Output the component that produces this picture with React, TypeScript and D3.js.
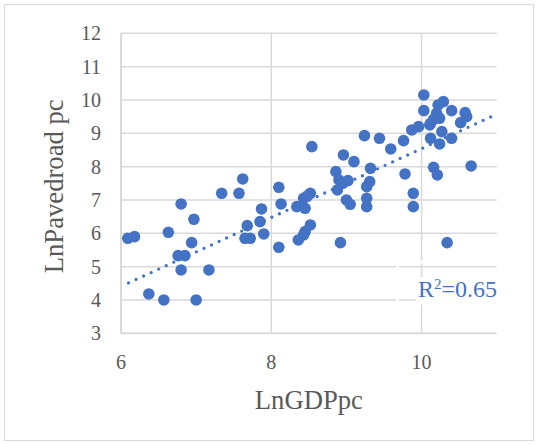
import React from "react";
import * as d3 from "d3";

const points: [number, number][] = [
  [6.09, 5.85], [6.18, 5.9], [6.37, 4.18], [6.57, 4.0], [6.63, 6.03], [6.8, 6.88],
  [6.76, 5.33], [6.85, 5.33], [6.8, 4.9], [6.94, 5.72], [6.97, 6.42], [7.0, 4.0], [7.17, 4.9],
  [7.34, 7.2], [7.57, 7.2], [7.62, 7.63], [7.68, 6.23], [7.65, 5.85], [7.72, 5.85],
  [7.87, 6.73], [7.85, 6.35], [7.9, 5.98], [8.1, 7.38], [8.13, 6.88], [8.1, 5.58],
  [8.34, 6.8], [8.36, 5.8], [8.43, 7.05], [8.45, 6.75], [8.45, 6.05], [8.43, 5.95],
  [8.54, 8.6], [8.52, 7.2], [8.48, 7.12], [8.52, 6.25],
  [8.86, 7.85], [8.88, 7.3], [8.9, 7.6], [8.95, 7.5], [8.96, 8.35], [8.92, 5.72],
  [9.0, 7.0], [9.05, 6.87], [9.02, 7.58], [9.1, 8.15], [9.24, 8.93], [9.32, 7.95],
  [9.31, 7.55], [9.27, 7.4], [9.27, 7.05], [9.27, 6.8], [9.44, 8.85], [9.59, 8.53],
  [9.76, 8.78], [9.78, 7.78], [9.87, 9.1], [9.96, 9.2], [9.89, 7.2], [9.89, 6.8],
  [10.03, 10.15], [10.03, 9.68], [10.29, 9.95], [10.22, 9.85], [10.4, 9.68], [10.58, 9.62],
  [10.6, 9.5], [10.2, 9.6], [10.16, 9.42], [10.24, 9.45], [10.12, 9.3], [10.52, 9.32],
  [10.11, 9.25], [10.27, 9.05], [10.12, 8.85], [10.24, 8.68], [10.4, 8.85], [10.16, 7.98],
  [10.21, 7.75], [10.66, 8.02], [10.34, 5.72],
];

const xTicks = [6, 8, 10];
const yTicks = [3, 4, 5, 6, 7, 8, 9, 10, 11, 12];
const trendSlope = 1.033;
const trendIntercept = -1.79;
const trendRange = [6.1, 11];
const r2Label = "0.65";
const xTitle = "LnGDPpc";
const yTitle = "LnPavedroad pc";

const BLUE = "#4472C4";
const GRID = "#d9d9d9";
const TEXT = "#595959";
const FONT = "'Liberation Serif', 'Times New Roman', serif";

export default function App() {
  const x = d3.scaleLinear().domain([6, 11]).range([121, 496.7]);
  const y = d3.scaleLinear().domain([3, 12]).range([333.3, 33.3]);
  const [x0, x1] = x.range();
  const [yb, yt] = y.range();
  const trend = d3
    .line<number>()
    .x((d) => x(d))
    .y((d) => y(trendSlope * d + trendIntercept));

  return (
    <div style={{ position: "fixed", left: 0, top: 0 }}>
      <svg width={538} height={445} style={{ display: "block" }}>
        <rect x={0} y={0} width={538} height={445} fill="#fff" />
        <rect x={4.5} y={4.5} width={529} height={436} fill="none" stroke={GRID} strokeWidth={1} />
        {yTicks.map((t) => (
          <line key={"gy" + t} x1={x0} x2={x1} y1={y(t)} y2={y(t)} stroke={GRID} strokeWidth={t === 3 ? 2 : 1.5} />
        ))}
        {xTicks.map((t) => (
          <line key={"gx" + t} x1={x(t)} x2={x(t)} y1={yb} y2={yt} stroke={GRID} strokeWidth={t === 6 ? 2 : 1.5} />
        ))}
        {/* R2 label box outline */}
        <rect x={397.5} y={262} width={104} height={41} fill="none" stroke="#fff" strokeWidth={3} />
        <rect x={416} y={277} width={84} height={25} fill="#fff" />
        {points.map((p, i) => (
          <circle key={i} cx={x(p[0])} cy={y(p[1])} r={5.8} fill={BLUE} />
        ))}
        <path
          d={trend(trendRange) || ""}
          fill="none"
          stroke={BLUE}
          strokeWidth={3.3}
          strokeLinecap="round"
          strokeDasharray="0 8.3"
        />
        {yTicks.map((t) => (
          <text key={"ty" + t} x={101} y={y(t) + 7} textAnchor="end" fontFamily={FONT} fontSize={20} fill={TEXT}>
            {t}
          </text>
        ))}
        {xTicks.map((t) => (
          <text key={"tx" + t} x={x(t)} y={369} textAnchor="middle" fontFamily={FONT} fontSize={20} fill={TEXT}>
            {t}
          </text>
        ))}
        <text x={(x0 + x1) / 2} y={409} textAnchor="middle" fontFamily={FONT} fontSize={26.67} fill={TEXT}>
          {xTitle}
        </text>
        <text
          transform={`translate(63,${(yb + yt) / 2 + 3}) rotate(-90)`}
          textAnchor="middle"
          fontFamily={FONT}
          fontSize={26.67}
          fill={TEXT}
        >
          {yTitle}
        </text>
        <text x={497} y={296.7} textAnchor="end" fontFamily={FONT} fontSize={24} fill={BLUE}>
          R<tspan fontSize={15} dy={-8}>2</tspan>
          <tspan dy={8}>={r2Label}</tspan>
        </text>
      </svg>
    </div>
  );
}
